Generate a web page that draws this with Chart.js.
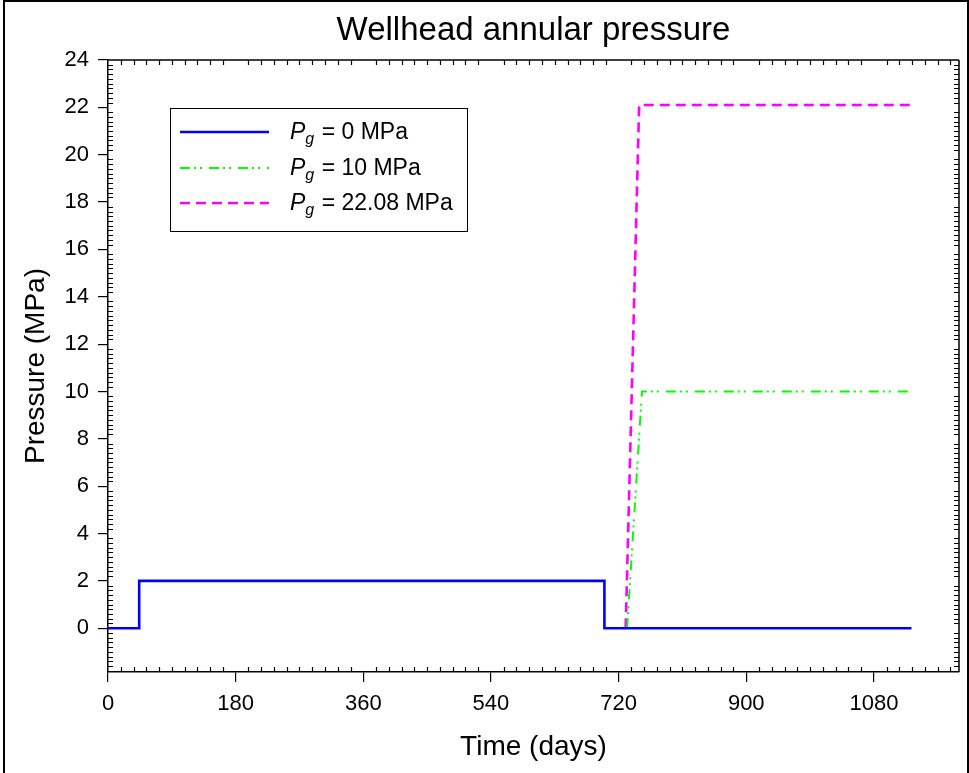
<!DOCTYPE html>
<html>
<head>
<meta charset="utf-8">
<script src="https://cdn.jsdelivr.net/npm/chart.js@4.4.0/dist/chart.umd.min.js"></script>
<style>
html,body{margin:0;padding:0;background:#fff;}
#wrap{position:absolute;left:0;top:0;width:969px;height:773px;}
#frame{position:absolute;left:3px;top:0;width:966px;height:773px;border-left:2px solid #000;border-top:2px solid #000;border-right:2px solid #000;box-sizing:border-box;pointer-events:none;}
canvas{position:absolute;left:0;top:0;}
</style>
</head>
<body>
<div id="wrap"><canvas id="c" width="969" height="773"></canvas><div id="frame"></div></div>
<script>
// ---- data ----
const chartTitle = 'Wellhead annular pressure';
const xAxisTitle = 'Time (days)';
const yAxisTitle = 'Pressure (MPa)';
const xTickLabels = [0, 180, 360, 540, 720, 900, 1080];
const yTickLabels = [0, 2, 4, 6, 8, 10, 12, 14, 16, 18, 20, 22, 24];
const seriesNames = ['0 MPa', '10 MPa', '22.08 MPa'];
const timeP0  = [0, 44, 44, 700, 700, 1133];
const presP0  = [0, 0, 2, 2, 0, 0];
const timeP10 = [732, 753, 1133];
const presP10 = [0, 10, 10];
const timeP22 = [730, 749, 1133];
const presP22 = [0, 22.1, 22.1];

const xRange = [0, 1200];
const yRange = [-1.85, 24];
const xMinorStep = 18;
const yMinorStep = 0.2;

const FONT = '"Liberation Sans", Arial, Helvetica, sans-serif';
const toPts = (xs, ys) => xs.map((x, i) => ({x: x, y: ys[i]}));

const colors = ['#0000ff', '#00ff00', '#ff00ff'];
const dashes = [[], [10, 4, 2, 4, 2, 7], [10, 6]];
const widths = [2.6, 2, 2.6];

const boxTicks = {
  id: 'boxTicks',
  afterDraw(chart) {
    const ctx = chart.ctx;
    const a = chart.chartArea;
    const xs = chart.scales.x, ys = chart.scales.y;
    ctx.save();
    ctx.strokeStyle = '#000';
    ctx.lineWidth = 1.5;
    ctx.beginPath();
    ctx.moveTo(a.left, a.top); ctx.lineTo(a.right, a.top);
    ctx.moveTo(a.right, a.top); ctx.lineTo(a.right, a.bottom);
    ctx.stroke();
    ctx.lineWidth = 1.2;
    ctx.beginPath();
    const isMajorX = v => xTickLabels.some(t => Math.abs(t - v) < 1e-6);
    const isMajorY = v => yTickLabels.some(t => Math.abs(t - v) < 1e-6);
    for (let i = 0; ; i++) {
      const v = xRange[0] + i * xMinorStep;
      if (v >= xRange[1] - 1e-6) break;
      if (isMajorX(v)) continue;
      const px = Math.round(xs.getPixelForValue(v)) + 0.5;
      ctx.moveTo(px, a.bottom); ctx.lineTo(px, a.bottom - 5);
      ctx.moveTo(px, a.top); ctx.lineTo(px, a.top + 5);
    }
    for (let i = -9; ; i++) {
      const v = Math.round(i * yMinorStep * 10) / 10;
      if (v <= yRange[0]) continue;
      if (v >= yRange[1] - 1e-6) break;
      if (isMajorY(v)) continue;
      const py = Math.round(ys.getPixelForValue(v)) + 0.5;
      ctx.moveTo(a.left, py); ctx.lineTo(a.left + 5, py);
      ctx.moveTo(a.right, py); ctx.lineTo(a.right - 5, py);
    }
    ctx.stroke();

    // legend
    const L = {x: 170, y: 108, w: 297, h: 123};
    ctx.lineWidth = 1;
    ctx.strokeStyle = '#000';
    ctx.strokeRect(L.x + 0.5, L.y + 0.5, L.w, L.h);
    const rows = [132, 168, 203];
    seriesNames.forEach((name, i) => {
      const y = rows[i];
      ctx.save();
      ctx.strokeStyle = colors[i];
      ctx.lineWidth = widths[i];
      ctx.setLineDash(dashes[i]);
      ctx.beginPath();
      ctx.moveTo(180, y); ctx.lineTo(269, y);
      ctx.stroke();
      ctx.restore();
      ctx.fillStyle = '#000';
      ctx.textBaseline = 'alphabetic';
      ctx.textAlign = 'left';
      let tx = 290;
      const base = y + 7;
      ctx.font = 'italic 23px ' + FONT;
      ctx.fillText('P', tx, base);
      tx += ctx.measureText('P').width;
      ctx.font = 'italic 16px ' + FONT;
      ctx.fillText('g', tx, base + 5);
      tx += ctx.measureText('g').width + 1;
      ctx.font = '23px ' + FONT;
      ctx.fillText(' = ' + name, tx, base);
    });
    ctx.restore();
  }
};

new Chart(document.getElementById('c'), {
  type: 'line',
  data: {
    datasets: [
      {label: 'Pg = ' + seriesNames[0], data: toPts(timeP0, presP0)},
      {label: 'Pg = ' + seriesNames[1], data: toPts(timeP10, presP10)},
      {label: 'Pg = ' + seriesNames[2], data: toPts(timeP22, presP22)}
    ].map((d, i) => Object.assign(d, {
      borderColor: colors[i], backgroundColor: colors[i], borderWidth: widths[i],
      borderDash: dashes[i], pointRadius: 0, tension: 0, fill: false, borderCapStyle: 'butt'
    }))
  },
  options: {
    responsive: false,
    animation: false,
    devicePixelRatio: 1,
    layout: {padding: {left: 0, right: 10, top: 0, bottom: 0}},
    plugins: {
      legend: {display: false},
      tooltip: {enabled: false},
      title: {
        display: true, text: chartTitle, color: '#000', fullSize: false,
        font: {family: FONT, size: 33, weight: 'normal'},
        padding: {top: 11, bottom: 9.4}
      }
    },
    scales: {
      x: {
        type: 'linear', min: xRange[0], max: xRange[1],
        afterBuildTicks: s => { s.ticks = xTickLabels.map(v => ({value: v})); },
        afterFit: s => { s.height = 101; },
        ticks: {color: '#000', font: {family: FONT, size: 22}, padding: 9, maxRotation: 0, autoSkip: false,
                callback: v => String(v)},
        grid: {drawOnChartArea: false, drawTicks: true, tickLength: 10, color: '#000', lineWidth: 1.2},
        border: {display: true, color: '#000', width: 1.5},
        title: {display: true, text: xAxisTitle, color: '#000', font: {family: FONT, size: 28}, padding: {top: 0, bottom: 9}}
      },
      y: {
        type: 'linear', min: yRange[0], max: yRange[1],
        afterBuildTicks: s => { s.ticks = yTickLabels.map(v => ({value: v})); },
        afterFit: s => { s.width = 108; },
        ticks: {color: '#000', font: {family: FONT, size: 22}, padding: 9, autoSkip: false,
                callback: v => String(v)},
        grid: {drawOnChartArea: false, drawTicks: true, tickLength: 10, color: '#000', lineWidth: 1.2},
        border: {display: true, color: '#000', width: 1.5},
        title: {display: true, text: yAxisTitle, color: '#000', font: {family: FONT, size: 28}, padding: {top: 19, bottom: 0}}
      }
    }
  },
  plugins: [boxTicks]
});
</script>
</body>
</html>
